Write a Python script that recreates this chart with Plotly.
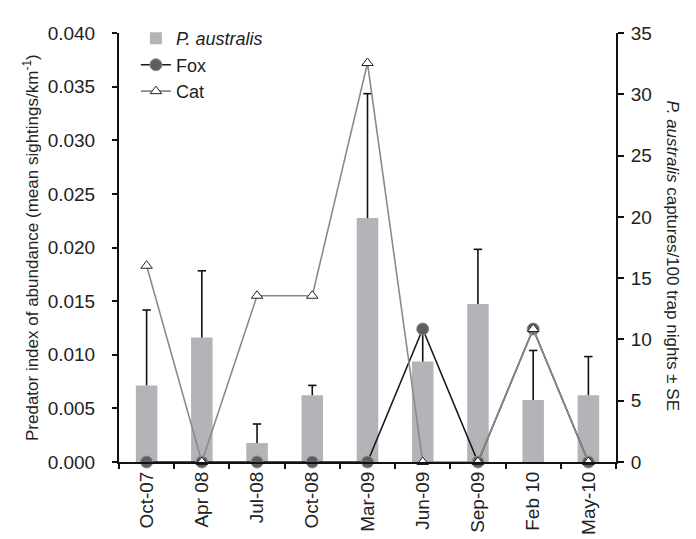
import plotly.graph_objects as go

categories = ["Oct-07", "Apr 08", "Jul-08", "Oct-08", "Mar-09", "Jun-09", "Sep-09", "Feb 10", "May-10"]
captures = [6.25, 10.15, 1.55, 5.45, 19.9, 8.2, 12.9, 5.05, 5.45]
captures_se = [6.15, 5.45, 1.55, 0.8, 10.15, 2.4, 4.45, 4.05, 3.15]
fox = [0, 0, 0, 0, 0, 0.0124, 0, 0.0124, 0]
cat = [0.0183, 0, 0.0155, 0.0155, 0.0372, 0, 0, 0.0124, 0]

FONT = "Liberation Sans, Arial, sans-serif"
TICKSIZE = 19

err_top = [v + e for v, e in zip(captures, captures_se)]

fig = go.Figure()

fig.add_trace(go.Bar(
    x=categories, y=captures, name="<i>P. australis</i>",
    marker=dict(color="#b3b4b8", line=dict(width=0)),
    width=0.39, yaxis="y",
))

# upper-only SE whiskers: cap marker at the top, stem down to the bar top
fig.add_trace(go.Scatter(
    x=categories, y=err_top, mode="markers", showlegend=False, hoverinfo="skip",
    marker=dict(symbol="line-ew", size=6, color="#111111", line=dict(color="#111111", width=1.6)),
    error_y=dict(type="data", symmetric=False, array=[0] * len(captures_se),
                 arrayminus=captures_se, color="#111111", thickness=1.6, width=0),
    yaxis="y",
))

fig.add_trace(go.Scatter(
    x=categories, y=fox, name="Fox", mode="lines+markers",
    line=dict(color="#1a1a1a", width=1.6),
    marker=dict(symbol="circle", size=12, color="#5e5e60", line=dict(color="#8e8e90", width=1)),
    yaxis="y2", cliponaxis=False,
))

fig.add_trace(go.Scatter(
    x=categories, y=cat, name="Cat", mode="lines+markers",
    line=dict(color="#8a8a8c", width=1.6),
    marker=dict(symbol="triangle-up", size=10, color="white", line=dict(color="#222222", width=1)),
    yaxis="y2", cliponaxis=False,
))

fig.update_layout(
    width=696, height=539,
    margin=dict(l=111, r=88, t=14, b=77),
    paper_bgcolor="white", plot_bgcolor="white",
    font=dict(family=FONT, size=18, color="#222222"),
    showlegend=True,
    legend=dict(x=0.034, y=1.03, xanchor="left", yanchor="top",
                bgcolor="rgba(0,0,0,0)", font=dict(size=18, color="#222222"),
                tracegroupgap=0, itemwidth=30),
    xaxis=dict(
        type="category", range=[-0.5, 8.5], tickson="boundaries",
        ticks="outside", ticklen=5, tickwidth=1.5, tickcolor="#111111",
        showline=True, linecolor="#111111", linewidth=2,
        tickangle=-90, showgrid=False, zeroline=False,
        tickfont=dict(size=TICKSIZE, color="#222222"),
    ),
    yaxis=dict(
        side="right", range=[0, 35], dtick=5, tick0=0,
        ticks="outside", ticklen=6, tickwidth=1.5, tickcolor="#111111",
        showline=True, linecolor="#111111", linewidth=2,
        showgrid=False, zeroline=False, ticklabelstandoff=3,
        tickfont=dict(size=TICKSIZE, color="#222222"),
    ),
    yaxis2=dict(
        overlaying="y", side="left", range=[0, 0.04], dtick=0.005, tick0=0,
        tickformat=".3f",
        ticks="outside", ticklen=5, tickwidth=1.5, tickcolor="#111111",
        showline=True, linecolor="#111111", linewidth=2,
        showgrid=False, zeroline=False, ticklabelstandoff=13,
        tickfont=dict(size=TICKSIZE, color="#222222"),
    ),
    annotations=[
        dict(text="Predator index of abundance (mean sightings/km<sup>-1</sup>)",
             xref="paper", yref="paper", x=-0.178, y=0.5, textangle=-90,
             showarrow=False, xanchor="center", yanchor="middle",
             font=dict(size=17, color="#222222")),
        dict(text="<i>P. australis</i> captures/100 trap nights ± SE",
             xref="paper", yref="paper", x=1.114, y=0.482, textangle=90,
             showarrow=False, xanchor="center", yanchor="middle",
             font=dict(size=17, color="#222222")),
    ],
)

fig.write_html("out.html")
